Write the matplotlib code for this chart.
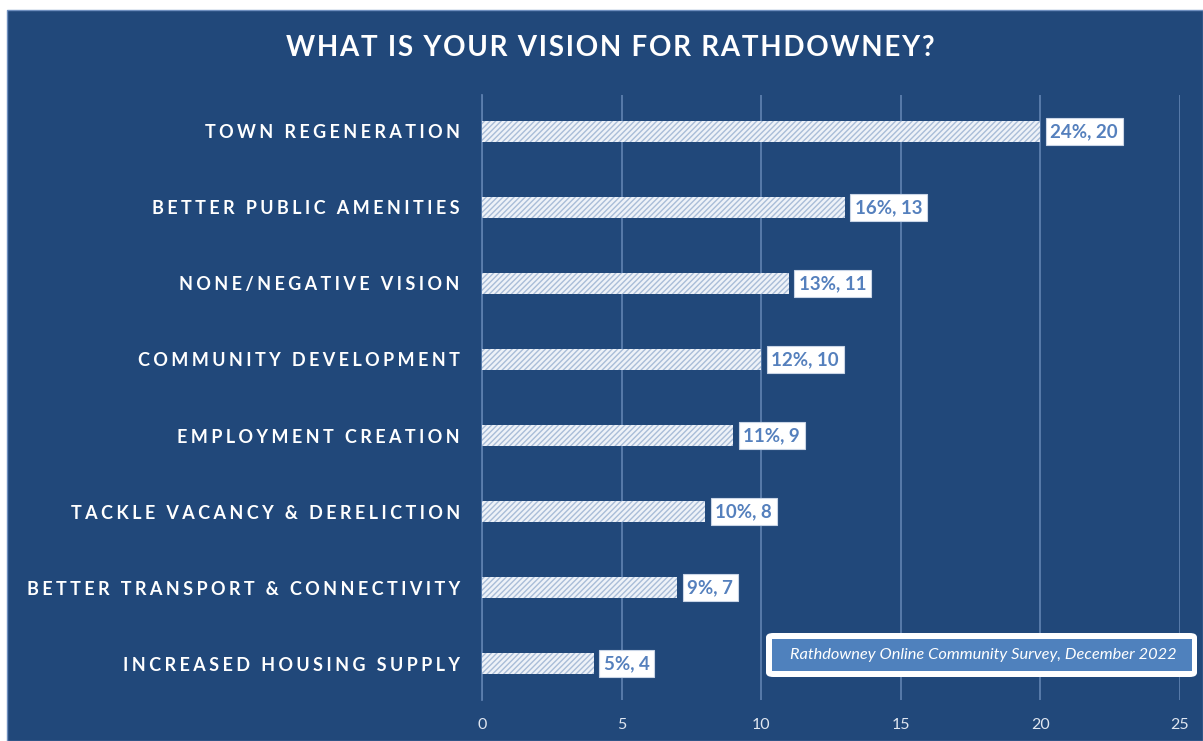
import matplotlib.pyplot as plt
from matplotlib.patches import Rectangle, FancyBboxPatch
import numpy as np

# data
categories = ["TOWN REGENERATION", "BETTER PUBLIC AMENITIES", "NONE/NEGATIVE VISION",
              "COMMUNITY DEVELOPMENT", "EMPLOYMENT CREATION",
              "TACKLE VACANCY & DERELICTION", "BETTER TRANSPORT & CONNECTIVITY",
              "INCREASED HOUSING SUPPLY"]
counts = [20, 13, 11, 10, 9, 8, 7, 4]
percents = [24, 16, 13, 12, 11, 10, 9, 5]
xticks = [0, 5, 10, 15, 20, 25]

bg = "#21487a"
grid_c = "#5c7fae"
label_blue = "#5580bd"
FONT = ["Lato", "DejaVu Sans"]
W, H = 1203, 741


def spaced(s, sep="\u200a"):
    # letter-spacing imitation
    return sep.join(s)


fig = plt.figure(figsize=(12.03, 7.41), dpi=100)
fig.patch.set_facecolor("white")
fig.patches.append(Rectangle((7 / W, 0), 1 - 7 / W, 1 - 10 / H,
                             transform=fig.transFigure, facecolor=bg,
                             edgecolor="#6f8fbf", linewidth=1, zorder=-10))

ax = fig.add_axes([482 / W, 41 / H, 698 / W, 605 / H])
ax.set_facecolor("none")

y = np.arange(len(categories))
ax.barh(y, counts, height=0.27, color="#eef2f8", edgecolor="#a9bdd8",
        hatch="//////", linewidth=0, zorder=3)

for yi, c, p in zip(y, counts, percents):
    ax.text(c + 0.36, yi, f"{p}%, {c}", va="center", ha="left",
            fontsize=13.5, fontweight="bold", color=label_blue, family=FONT,
            bbox=dict(boxstyle="square,pad=0.25", facecolor="white",
                      edgecolor="#c9d5e6", linewidth=0.8), zorder=4)

ax.set_xlim(0, 25)
ax.set_ylim(len(categories) - 0.52, -0.48)
ax.set_xticks(xticks)
ax.set_xticklabels([str(t) for t in xticks], fontsize=11.5, color="#dfe6f0",
                   family=FONT)
ax.set_yticks(y)
ax.set_yticklabels([spaced(c, "\u2009\u200a") for c in categories],
                   fontsize=13, fontweight="bold", color="white", family=FONT)
ax.tick_params(axis="both", length=0)
ax.tick_params(axis="y", pad=16)
ax.tick_params(axis="x", pad=13)
ax.grid(axis="x", color=grid_c, linewidth=1.3, zorder=0)
for s in ["top", "right", "bottom"]:
    ax.spines[s].set_visible(False)
ax.spines["left"].set_color(grid_c)
ax.spines["left"].set_linewidth(1.3)

fig.text(610 / W, 1 - 48 / H, spaced("WHAT IS YOUR VISION FOR RATHDOWNEY?"),
         ha="center", va="center", fontsize=20, fontweight="bold",
         color="white", family=FONT)

# source note box
fig.patches.append(FancyBboxPatch((766 / W, 1 - 677 / H), 431 / W, 44 / H,
                                  boxstyle="round,pad=0,rounding_size=0.006",
                                  transform=fig.transFigure, facecolor="white",
                                  edgecolor="none", zorder=5))
fig.patches.append(Rectangle((772 / W, 1 - 671 / H), 420 / W, 32 / H,
                             transform=fig.transFigure, facecolor="#4f81bd",
                             edgecolor="none", zorder=6))
fig.text(983 / W, 1 - 655 / H,
         "Rathdowney Online Community Survey, December 2022",
         ha="center", va="center", fontsize=11.8, style="italic",
         color="white", family=FONT, zorder=7)

fig.savefig("out.png", dpi=100, facecolor=fig.get_facecolor())
